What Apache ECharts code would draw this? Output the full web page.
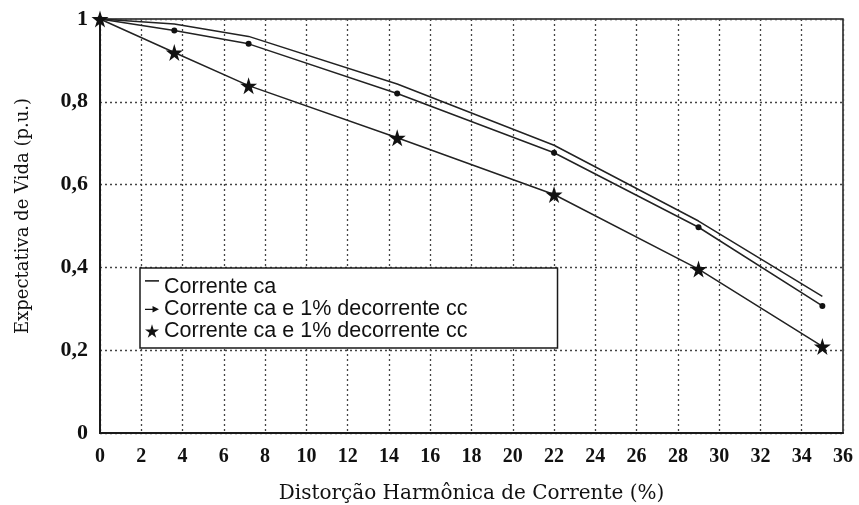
<!DOCTYPE html>
<html>
<head>
<meta charset="utf-8">
<script src="https://cdn.jsdelivr.net/npm/echarts@6/dist/echarts.min.js"></script>
<style>
  html, body { margin: 0; padding: 0; background: #fff; }
  #chart { width: 859px; height: 505px; }
</style>
</head>
<body>
<div id="chart"></div>
<script>
// Harmonic distortion of current (%) at each measured point
const distortion = [0, 3.6, 7.2, 14.4, 22, 29, 35];

// Life expectancy (p.u.) for each case
const lifeAC = [1.0, 0.988, 0.958, 0.843, 0.695, 0.512, 0.33];
const lifeACdc1 = [1.0, 0.972, 0.940, 0.820, 0.677, 0.497, 0.307];
const lifeACdc1Star = [1.0, 0.919, 0.839, 0.713, 0.576, 0.396, 0.209];

const seriesNames = [
  'Corrente ca',
  'Corrente ca e 1% decorrente cc',
  'Corrente ca e 1% decorrente cc '
];

const xTicks = { min: 0, max: 36, step: 2 };
const yTicks = { min: 0, max: 1, step: 0.2 };

const STAR = 'path://M50,0 L61,35 L98,35 L68,57 L79,91 L50,70 L21,91 L32,57 L2,35 L39,35 Z';
const DASH = 'path://M0,1H12V2.6H0Z M0,13H0.01V13.01H0Z';
const DOT_ARROW = 'path://M0,6.2H8V7.4H0Z M7,3.8L13,6.8L7,9.8Z M0,0H0.01V0.01H0Z M0,13H0.01V13.01H0Z';

const pairs = arr => distortion.map((x, i) => [x, arr[i]]);
const ink = '#1a1a1a';

const chart = echarts.init(document.getElementById('chart'));
chart.setOption({
  backgroundColor: '#fff',
  animation: false,
  grid: {
    left: 100, right: 16, top: 19, bottom: 72,
    outerBoundsMode: 'none', containLabel: false,
    show: true, borderColor: ink, borderWidth: 1.5
  },
  xAxis: {
    type: 'value',
    min: xTicks.min, max: xTicks.max, interval: xTicks.step,
    name: 'Distorção Harmônica de Corrente (%)',
    nameLocation: 'middle', nameGap: 51, nameMoveOverlap: false,
    nameTextStyle: { fontFamily: 'DejaVu Serif', fontSize: 20, color: '#111' },
    axisLine: { lineStyle: { color: ink, width: 2 } },
    axisTick: { show: false },
    axisLabel: {
      fontFamily: 'Liberation Serif', fontWeight: 'bold', fontSize: 20,
      color: '#111', margin: 14
    },
    splitLine: { show: true, lineStyle: { color: '#444', width: 1.3, type: [2, 3] } }
  },
  yAxis: {
    type: 'value',
    min: yTicks.min, max: yTicks.max, interval: yTicks.step,
    name: 'Expectativa de Vida (p.u.)',
    nameLocation: 'middle', nameGap: 68, nameMoveOverlap: false,
    nameTextStyle: { fontFamily: 'DejaVu Serif', fontSize: 18, color: '#111', padding: [0, 0, 0, 20] },
    axisLine: { show: true, lineStyle: { color: ink, width: 2 } },
    axisTick: { show: false },
    axisLabel: {
      fontFamily: 'Liberation Serif', fontWeight: 'bold', fontSize: 22,
      color: '#111', margin: 12,
      formatter: v => String(Math.round(v * 10) / 10).replace('.', ',')
    },
    splitLine: { show: true, lineStyle: { color: '#444', width: 1.3, type: [2, 3] } }
  },
  legend: {
    orient: 'vertical',
    left: 140, top: 268,
    padding: [8, 84, 6, 5],
    itemGap: 0,
    itemWidth: 14, itemHeight: 14,
    backgroundColor: '#fff',
    borderColor: ink, borderWidth: 1.5,
    textStyle: { fontFamily: 'Liberation Sans', fontSize: 21.5, color: '#111', lineHeight: 22 },
    data: [
      { name: seriesNames[0], icon: DASH, itemStyle: { color: '#333' } },
      { name: seriesNames[1], icon: DOT_ARROW, itemStyle: { color: '#111' } },
      { name: seriesNames[2], icon: STAR, itemStyle: { color: '#111' } }
    ]
  },
  series: [
    {
      name: seriesNames[0], type: 'line', data: pairs(lifeAC),
      symbol: 'none', lineStyle: { color: '#222', width: 1.5 },
      itemStyle: { color: '#222' }, z: 3
    },
    {
      name: seriesNames[1], type: 'line', data: pairs(lifeACdc1),
      symbol: 'circle', symbolSize: 6, showSymbol: true,
      lineStyle: { color: '#222', width: 1.5 },
      itemStyle: { color: '#111' }, z: 4
    },
    {
      name: seriesNames[2], type: 'line', data: pairs(lifeACdc1Star),
      symbol: STAR, symbolSize: 17, showSymbol: true,
      lineStyle: { color: '#222', width: 1.5 },
      itemStyle: { color: '#111' }, z: 5
    }
  ]
});
</script>
</body>
</html>
